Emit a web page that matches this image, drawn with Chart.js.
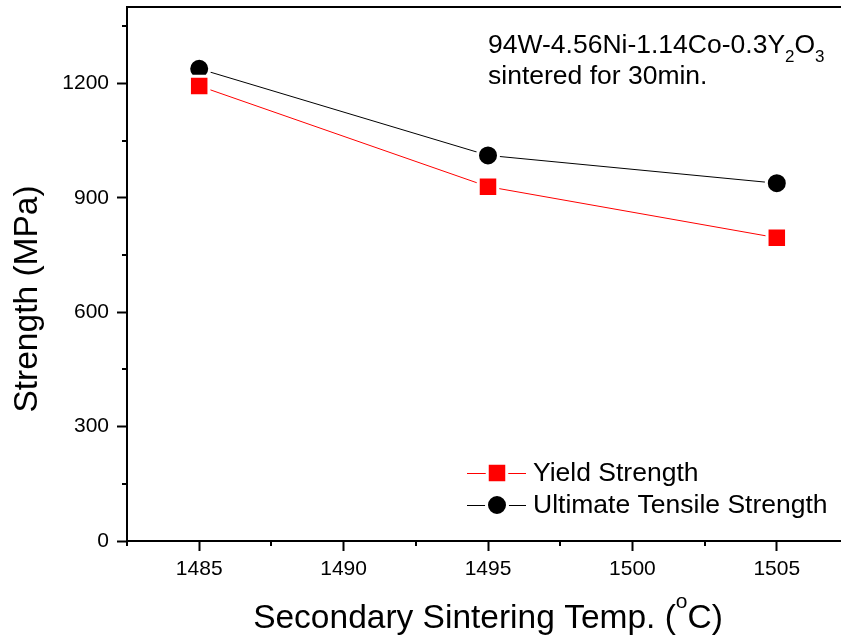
<!DOCTYPE html>
<html>
<head>
<meta charset="utf-8">
<script src="https://cdn.jsdelivr.net/npm/chart.js@4/dist/chart.umd.min.js"></script>
<style>
  html, body { margin: 0; padding: 0; background: #fff; overflow: hidden; }
  #wrap { width: 860px; height: 644px; }
</style>
</head>
<body>
<div id="wrap"><canvas id="c" width="860" height="644"></canvas></div>
<script>
// Secondary sintering temperature (°C)
const temps = [1485, 1495, 1505];
// Strength values (MPa)
const yieldStrength = [1193, 929, 795];
const tensileStrength = [1238, 1011, 938];
const seriesNames = ['Yield Strength', 'Ultimate Tensile Strength'];
const annotationMain = ['94W-4.56Ni-1.14Co-0.3Y', '2', 'O', '3'];
const annotationLine2 = 'sintered for 30min.';
const xTitle = ['Secondary Sintering Temp. (', 'o', 'C)'];
const yTitle = 'Strength (MPa)';

const FONT = '"Liberation Sans", Arial, Helvetica, sans-serif';

const pairs = (xs, ys) => xs.map((x, i) => ({ x, y: ys[i] }));

// Minor ticks, frame top line, axis titles, annotation and legend
const decor = {
  id: 'decor',
  afterDraw(chart) {
    const { ctx, chartArea: a, scales: { x, y } } = chart;
    ctx.save();
    ctx.strokeStyle = '#000';
    ctx.lineWidth = 2;
    // top frame line
    ctx.beginPath();
    ctx.moveTo(a.left - 1, a.top);
    ctx.lineTo(chart.width, a.top);
    ctx.stroke();
    // minor ticks
    ctx.beginPath();
    for (let v = 150; v < 1400; v += 300) {
      const py = Math.round(y.getPixelForValue(v));
      ctx.moveTo(a.left - 5, py); ctx.lineTo(a.left, py);
    }
    for (let v = 1482.5; v <= 1507.5; v += 5) {
      const px = Math.round(x.getPixelForValue(v));
      ctx.moveTo(px, a.bottom); ctx.lineTo(px, a.bottom + 5);
    }
    ctx.stroke();

    ctx.fillStyle = '#000';
    // y title
    ctx.save();
    ctx.translate(37, 299);
    ctx.rotate(-Math.PI / 2);
    ctx.font = '33.5px ' + FONT;
    ctx.textAlign = 'center';
    ctx.textBaseline = 'alphabetic';
    ctx.fillText(yTitle, 0, 0);
    ctx.restore();

    // x title with superscript
    ctx.textBaseline = 'alphabetic';
    ctx.textAlign = 'left';
    const big = '33.5px ' + FONT, sup = '21px ' + FONT;
    ctx.font = big; const w1 = ctx.measureText(xTitle[0]).width;
    const w3 = ctx.measureText(xTitle[2]).width;
    ctx.font = sup; const w2 = ctx.measureText(xTitle[1]).width;
    let tx = (a.left + a.right) / 2 - (w1 + w2 + w3) / 2;
    const tb = 628;
    ctx.font = big; ctx.fillText(xTitle[0], tx, tb); tx += w1;
    ctx.font = sup; ctx.fillText(xTitle[1], tx, tb - 20); tx += w2;
    ctx.font = big; ctx.fillText(xTitle[2], tx, tb);

    // composition annotation
    const af = '26.5px ' + FONT, sf = '17px ' + FONT;
    let ax = 488; const ab = 53;
    annotationMain.forEach((s, i) => {
      const isSub = i % 2 === 1;
      ctx.font = isSub ? sf : af;
      ctx.fillText(s, ax, isSub ? ab + 9 : ab);
      ax += ctx.measureText(s).width;
    });
    ctx.font = af;
    ctx.fillText(annotationLine2, 488, 84);

    // legend
    const rows = [473, 505];
    chart.data.datasets.forEach((ds, i) => {
      const ry = rows[i];
      ctx.strokeStyle = ds.borderColor;
      ctx.lineWidth = 1;
      ctx.beginPath();
      ctx.moveTo(467, ry + 0.5); ctx.lineTo(526, ry + 0.5);
      ctx.stroke();
      ctx.fillStyle = ds.pointBackgroundColor;
      ctx.strokeStyle = '#fff';
      ctx.lineWidth = 3;
      ctx.beginPath();
      if (ds.pointStyle === 'rect') {
        const h = ds.pointRadius * Math.SQRT1_2;
        ctx.rect(497 - h, ry - h, 2 * h, 2 * h);
      } else {
        ctx.arc(497, ry, ds.pointRadius, 0, Math.PI * 2);
      }
      ctx.fill(); ctx.stroke();
      ctx.fillStyle = '#000';
      ctx.font = '26.5px ' + FONT;
      ctx.textBaseline = 'middle';
      ctx.fillText(ds.label, 533, ry + 1);
      ctx.textBaseline = 'alphabetic';
    });
    ctx.restore();
  }
};

new Chart(document.getElementById('c'), {
  type: 'line',
  data: {
    datasets: [
      {
        label: seriesNames[0],
        data: pairs(temps, yieldStrength),
        borderColor: '#ff0000',
        borderWidth: 1,
        pointStyle: 'rect',
        pointRadius: 13.8,
        pointBackgroundColor: '#ff0000',
        pointBorderColor: '#ffffff',
        pointBorderWidth: 3
      },
      {
        label: seriesNames[1],
        data: pairs(temps, tensileStrength),
        borderColor: '#000000',
        borderWidth: 1,
        pointStyle: 'circle',
        pointRadius: 10.5,
        pointBackgroundColor: '#000000',
        pointBorderColor: '#ffffff',
        pointBorderWidth: 3
      }
    ]
  },
  options: {
    responsive: false,
    animation: false,
    events: [],
    layout: { autoPadding: false, padding: { left: 0, top: 7, right: 11, bottom: 0 } },
    plugins: { legend: { display: false }, tooltip: { enabled: false } },
    scales: {
      x: {
        type: 'linear',
        min: 1482.5,
        max: 1507.5,
        afterFit: s => { s.height = 103; s.paddingLeft = 0; s.paddingRight = 0; },
        ticks: {
          stepSize: 2.5,
          includeBounds: false,
          autoSkip: false,
          maxRotation: 0,
          padding: 6,
          color: '#000',
          font: { family: FONT, size: 21 },
          callback: v => (v % 5 === 0 ? String(v) : '')
        },
        grid: {
          drawOnChartArea: false,
          tickLength: 10,
          tickWidth: 2,
          tickColor: c => (c.tick && c.tick.value % 5 === 0 ? '#000' : 'rgba(0,0,0,0)')
        },
        border: { display: true, color: '#000', width: 2 }
      },
      y: {
        min: 0,
        max: 1400,
        afterFit: s => { s.width = 127; s.paddingTop = 0; s.paddingBottom = 0; },
        ticks: {
          stepSize: 150,
          includeBounds: false,
          autoSkip: false,
          padding: 8,
          color: '#000',
          font: { family: FONT, size: 21 },
          callback: v => (v % 300 === 0 ? String(v) : '')
        },
        grid: {
          drawOnChartArea: false,
          tickLength: 10,
          tickWidth: 2,
          tickColor: c => (c.tick && c.tick.value % 300 === 0 ? '#000' : 'rgba(0,0,0,0)')
        },
        border: { display: true, color: '#000', width: 2 }
      }
    }
  },
  plugins: [decor]
});
</script>
</body>
</html>
